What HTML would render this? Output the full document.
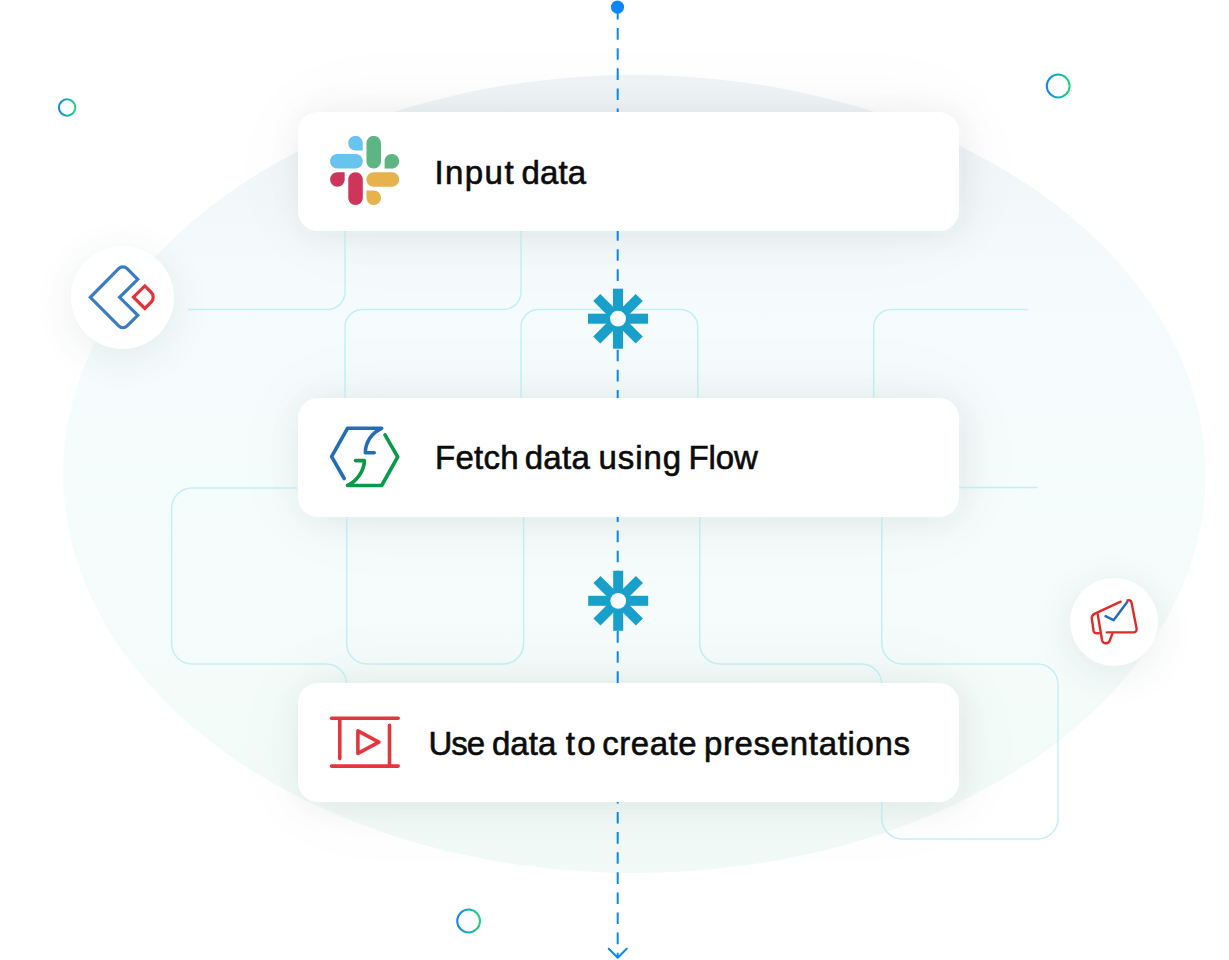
<!DOCTYPE html>
<html>
<head>
<meta charset="utf-8">
<style>
html,body{margin:0;padding:0;background:#fff;}
body{width:1229px;height:960px;overflow:hidden;position:relative;font-family:"Liberation Sans",sans-serif;}
.layer{position:absolute;left:0;top:0;width:1229px;height:960px;}
.card{position:absolute;left:297.5px;width:661px;height:118.8px;border-radius:20px;background:#fff;box-shadow:0 0 100px rgba(30,50,50,0.035);}
.txt{position:absolute;font-size:33px;color:#0c0c0c;white-space:nowrap;line-height:1;-webkit-text-stroke:0.6px #0c0c0c;}
.circ{position:absolute;border-radius:50%;background:#fff;box-shadow:0 8px 40px rgba(30,65,60,0.09);}
</style>
</head>
<body>
<svg class="layer" viewBox="0 0 1229 960">
  <defs>
    <linearGradient id="eg" x1="0" y1="0" x2="0" y2="1">
      <stop offset="0" stop-color="#eff4f6"/>
      <stop offset="0.1" stop-color="#f1f6f8"/>
      <stop offset="0.25" stop-color="#f5fbfc"/>
      <stop offset="0.5" stop-color="#f5fcfc"/>
      <stop offset="0.8" stop-color="#f4fcfa"/>
      <stop offset="1" stop-color="#f1faf7"/>
    </linearGradient>
    <filter id="sh" x="-30%" y="-100%" width="160%" height="300%">
      <feGaussianBlur stdDeviation="16 16"/>
    </filter>
    <filter id="shc" x="-100%" y="-100%" width="300%" height="300%">
      <feGaussianBlur stdDeviation="14"/>
    </filter>
    <linearGradient id="rg" x1="0" y1="0" x2="1" y2="0">
      <stop offset="0" stop-color="#1784f0"/>
      <stop offset="1" stop-color="#1ed47a"/>
    </linearGradient>
  </defs>
  <ellipse cx="634.3" cy="474" rx="571.3" ry="399" fill="url(#eg)"/>
  <g fill="rgb(25,55,60)" fill-opacity="0.07" filter="url(#sh)">
    <rect x="301.5" y="115" width="661" height="118.8" rx="20"/>
    <rect x="301.5" y="400.8" width="661" height="118.8" rx="20"/>
    <rect x="301.5" y="685.8" width="661" height="118.8" rx="20"/>
  </g>
  <circle cx="67.1" cy="107.5" r="8.2" fill="none" stroke="url(#rg)" stroke-width="2"/>
  <circle cx="1058.2" cy="86" r="11.4" fill="none" stroke="url(#rg)" stroke-width="2"/>
  <circle cx="468.6" cy="921" r="11.4" fill="none" stroke="url(#rg)" stroke-width="2"/>

  <g fill="none" stroke="#c3eff6" stroke-width="1.5">
    <path d="M188,309.5 H327.5 A17.5,17.5 0 0 0 345,292 V231"/>
    <path d="M345,398 V327 A17.5,17.5 0 0 1 362.5,309.5 H503.5 A17.5,17.5 0 0 0 521,292 V231"/>
    <path d="M521,398 V327 A17.5,17.5 0 0 1 538.5,309.5 H680.3 A17.5,17.5 0 0 1 697.8,327 V398"/>
    <path d="M873.7,398 V327 A17.5,17.5 0 0 1 891.2,309.5 H1028.3"/>
    <path d="M958,487.5 H1037.7"/>
    <path d="M297,488 H192.1 A20.5,20.5 0 0 0 171.6,508.5 V643.5 A20.5,20.5 0 0 0 192.1,664 H326.2 A20.5,20.5 0 0 1 346.7,684.5 V690"/>
    <path d="M346.7,516 V643.5 A20.5,20.5 0 0 0 367.2,664 H503.1 A20.5,20.5 0 0 0 523.6,643.5 V516"/>
    <path d="M699.7,516 V643.5 A20.5,20.5 0 0 0 720.2,664 H861.3 A20.5,20.5 0 0 1 881.8,684.5 V690"/>
    <path d="M881.8,516 V643.5 A20.5,20.5 0 0 0 902.3,664 H1037.5 A20.5,20.5 0 0 1 1058,684.5 V818.5 A20.5,20.5 0 0 1 1037.5,839 H902.3 A20.5,20.5 0 0 1 881.8,818.5 V801"/>
  </g>
  <path d="M617.7,8 V958" stroke="#0b87f7" stroke-width="2" stroke-dasharray="11.6 8.5" fill="none"/>
  <circle cx="617.5" cy="7.1" r="6.6" fill="#0b87f7"/>
  <path d="M608.75,948.75 L617.7,957.7 L626.7,948.75" stroke="#0b87f7" stroke-width="2" fill="none" stroke-linecap="round" stroke-linejoin="round"/>
</svg>

<div class="card" style="top:112px"></div>
<div class="card" style="top:397.8px"></div>
<div class="card" style="top:682.8px"></div>
<div class="circ" style="left:70.5px;top:245.5px;width:103px;height:103px"></div>
<div class="circ" style="left:1070.3px;top:578px;width:88px;height:88px"></div>



<svg class="layer" viewBox="0 0 1229 960">
  <!-- asterisks -->
  <g id="ast1" transform="translate(618,318.7)" fill="#18a0cb">
    <rect x="-5" y="-30" width="10" height="60"/>
    <rect x="-5" y="-30" width="10" height="60" transform="rotate(45)"/>
    <rect x="-5" y="-30" width="10" height="60" transform="rotate(90)"/>
    <rect x="-5" y="-30" width="10" height="60" transform="rotate(135)"/>
    <circle r="7.9" fill="#f8fcfd"/>
  </g>
  <g transform="translate(618.2,600.8)" fill="#18a0cb">
    <rect x="-5" y="-30" width="10" height="60"/>
    <rect x="-5" y="-30" width="10" height="60" transform="rotate(45)"/>
    <rect x="-5" y="-30" width="10" height="60" transform="rotate(90)"/>
    <rect x="-5" y="-30" width="10" height="60" transform="rotate(135)"/>
    <circle r="7.9" fill="#f8fcfd"/>
  </g>
  <!-- slack -->
  <svg x="330.1" y="135.9" width="69" height="69" viewBox="0.7 0.6 125.6 125.6">
    <path d="M27.2 80c0 7.3-5.9 13.2-13.2 13.2C6.7 93.2.8 87.3.8 80c0-7.3 5.9-13.2 13.2-13.2h13.2V80zm6.6 0c0-7.3 5.9-13.2 13.2-13.2 7.3 0 13.2 5.9 13.2 13.2v33c0 7.3-5.9 13.2-13.2 13.2-7.3 0-13.2-5.9-13.2-13.2V80z" fill="#cd355a"/>
    <path d="M47 27c-7.3 0-13.2-5.9-13.2-13.2C33.8 6.5 39.7.6 47 .6c7.3 0 13.2 5.9 13.2 13.2V27H47zm0 6.7c7.3 0 13.2 5.9 13.2 13.2 0 7.3-5.9 13.2-13.2 13.2H13.9C6.6 60.1.7 54.2.7 46.9c0-7.3 5.9-13.2 13.2-13.2H47z" fill="#68c3ef"/>
    <path d="M99.9 46.9c0-7.3 5.9-13.2 13.2-13.2 7.3 0 13.2 5.9 13.2 13.2 0 7.3-5.9 13.2-13.2 13.2H99.9V46.9zm-6.6 0c0 7.3-5.9 13.2-13.2 13.2-7.3 0-13.2-5.9-13.2-13.2V13.8C66.9 6.5 72.8.6 80.1.6c7.3 0 13.2 5.9 13.2 13.2v33.1z" fill="#5db583"/>
    <path d="M80.1 99.8c7.3 0 13.2 5.9 13.2 13.2 0 7.3-5.9 13.2-13.2 13.2-7.3 0-13.2-5.9-13.2-13.2V99.8h13.2zm0-6.6c-7.3 0-13.2-5.9-13.2-13.2 0-7.3 5.9-13.2 13.2-13.2h33.1c7.3 0 13.2 5.9 13.2 13.2 0 7.3-5.9 13.2-13.2 13.2H80.1z" fill="#e6b24b"/>
  </svg>
  <!-- flow -->
  <g fill="none" stroke-width="3.6" stroke-linecap="round" stroke-linejoin="round">
    <path d="M344.2,478.5 L331.6,456.6 L347.5,428.3 L381.7,428.3 C372,432.5 365.5,442 365.3,452.7 L374.2,452.7" stroke="#226db4"/>
    <path d="M385,434.9 L397.7,456.9 L381.7,485.5 L347.5,485.5 C357,481 364,471 364.4,460.6 L355.5,460.6" stroke="#089949"/>
  </g>
  <!-- presentation -->
  <g fill="none" stroke="#e3373d" stroke-width="3.6" stroke-linecap="round" stroke-linejoin="round">
    <path d="M331.5,718.2 H398.2 M331.5,766.1 H398.2 M339.8,718.2 V758.6 M389.5,725.3 V766"/>
    <path d="M357.9,730.9 L378.9,742.1 L357.9,753.3 Z"/>
  </g>
  <!-- zoho creator -->
  <g fill="none" stroke-width="3.2" stroke-linejoin="miter" stroke-linecap="round">
    <path d="M137.8,279.3 L127.14,268.64 A6,6 0 0 0 118.66,268.64 L90.3,297.3 L118.66,325.96 A6,6 0 0 0 127.14,325.96 L137.8,315.3 L119.6,297.3 Z" stroke="#3a7cc4"/>
    <path d="M133.5,297.2 L144.8,285.9 L151.15,292.25 A7,7 0 0 1 151.15,302.15 L144.8,308.5 Z" stroke="#e4343a"/>
  </g>
  <!-- campaigns -->
  <g fill="none" stroke-width="2.4" stroke-linecap="round" stroke-linejoin="round">
    <path d="M1120.7,601.7 L1094.4,613.9 Q1091.5,615.5 1091.8,618.5 L1093.6,631 Q1094.2,633.2 1096.5,633.2 L1099,633.2" stroke="#e02b2b"/>
    <path d="M1097.7,614.2 L1102.1,640.5 Q1103,643.5 1106.2,643.3 Q1108.8,643 1109.8,640.5 L1112.3,633.8" stroke="#e02b2b"/>
    <path d="M1106.9,632.4 L1133.5,632.4 Q1137,632 1136.6,628.5 L1131.5,602.5 Q1130.5,599.5 1127.5,600.5" stroke="#e02b2b"/>
    <path d="M1105.5,616.2 L1113.6,620.2 L1127.2,602" stroke="#1f6bc0"/>
  </g>
</svg>
<div class="txt" style="left:434.4px;top:155.6px;letter-spacing:1.45px">Input</div>
<div class="txt" style="left:521.5px;top:155.6px;letter-spacing:0.10px">data</div>
<div class="txt" style="left:435.1px;top:440.5px;letter-spacing:0.22px">Fetch</div>
<div class="txt" style="left:524.7px;top:440.5px;letter-spacing:0.30px">data</div>
<div class="txt" style="left:598.5px;top:440.5px;letter-spacing:0.95px">using</div>
<div class="txt" style="left:688.4px;top:440.5px;letter-spacing:-0.07px">Flow</div>
<div class="txt" style="left:428.6px;top:727px;letter-spacing:-1.10px">Use</div>
<div class="txt" style="left:491.9px;top:727px;letter-spacing:0.07px">data</div>
<div class="txt" style="left:565.8px;top:727px;letter-spacing:2.30px">to</div>
<div class="txt" style="left:602.3px;top:727px;letter-spacing:0.50px">create</div>
<div class="txt" style="left:703.9px;top:727px;letter-spacing:0.67px">presentations</div>
</body>
</html>
